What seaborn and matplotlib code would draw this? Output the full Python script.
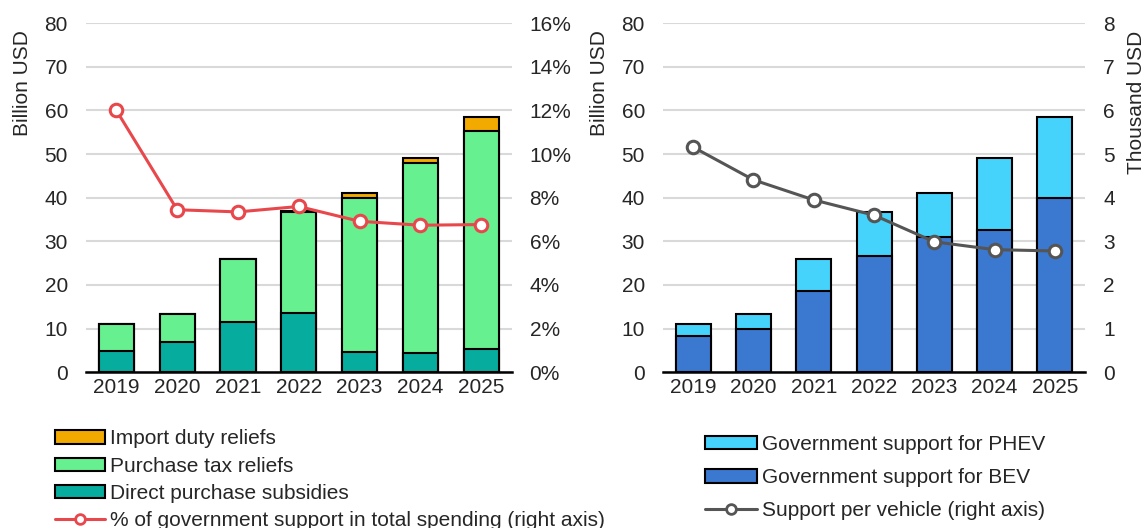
import seaborn as sns
import pandas as pd
import matplotlib.pyplot as plt
from matplotlib.patches import Patch
from matplotlib.lines import Line2D
from matplotlib.ticker import FuncFormatter

years = ['2019', '2020', '2021', '2022', '2023', '2024', '2025']

# left panel (billion USD)
direct_subsidies = [4.9, 7.0, 11.6, 13.5, 4.7, 4.4, 5.4]
purchase_tax = [6.2, 6.3, 14.4, 23.2, 35.3, 43.6, 49.9]
import_duty = [0.0, 0.0, 0.0, 0.15, 1.1, 1.0, 3.2]
share_pct = [12.0, 7.45, 7.35, 7.6, 6.92, 6.74, 6.77]

# right panel
bev_support = [8.4, 10.0, 18.7, 26.7, 31.0, 32.6, 40.0]
phev_support = [2.7, 3.3, 7.3, 10.1, 10.1, 16.4, 18.5]
per_vehicle = [5.16, 4.41, 3.95, 3.60, 2.99, 2.81, 2.78]

sns.set_theme(style='white')
plt.rcParams['font.family'] = ['Liberation Sans', 'DejaVu Sans']
FS = 15
plt.rcParams['font.size'] = FS

ORANGE = '#F2A900'
LGREEN = '#66F08F'
TEAL = '#06AC9D'
RED = '#E8484B'
LBLUE = '#45D3FC'
BLUE = '#3B78D0'
GREY = '#555555'

fig = plt.figure(figsize=(11.47, 5.28), dpi=100)
ax1 = fig.add_axes([0.075, 0.295, 0.371, 0.661])
ax3 = fig.add_axes([0.578, 0.295, 0.368, 0.661])

left = pd.DataFrame({'year': years, 'direct': direct_subsidies,
                     'tax': purchase_tax, 'duty': import_duty})
left['l2'] = left['direct'] + left['tax']
left['l3'] = left['l2'] + left['duty']

right = pd.DataFrame({'year': years, 'bev': bev_support, 'phev': phev_support})
right['total'] = right['bev'] + right['phev']

bar_kw = dict(width=0.58, edgecolor='black', linewidth=1.5, saturation=1)


def style_axis(ax, ymax, step):
    ax.set_ylim(0, ymax)
    ax.set_yticks(range(0, ymax + 1, step))
    ax.grid(axis='y', color='#D9D9D9', linewidth=1.5)
    ax.set_axisbelow(True)
    for s in ['top', 'left', 'right']:
        ax.spines[s].set_visible(False)
    ax.spines['bottom'].set_color('black')
    ax.spines['bottom'].set_linewidth(1.8)
    ax.tick_params(axis='y', length=0, labelsize=FS, pad=13)
    ax.tick_params(axis='x', length=0, labelsize=FS, pad=4)
    ax.set_xlabel('')
    ax.set_ylabel('Billion USD', fontsize=FS)
    ax.yaxis.set_label_coords(-0.128, 0.828)


def style_twin(ax):
    ax.tick_params(axis='y', length=0, labelsize=FS, pad=13)
    for s in ax.spines.values():
        s.set_visible(False)
    ax.set_ylabel('')


# left chart
sns.barplot(data=left, x='year', y='l3', color=ORANGE, ax=ax1, **bar_kw)
sns.barplot(data=left, x='year', y='l2', color=LGREEN, ax=ax1, **bar_kw)
sns.barplot(data=left, x='year', y='direct', color=TEAL, ax=ax1, **bar_kw)
style_axis(ax1, 80, 10)

ax2 = ax1.twinx()
sns.pointplot(x=years, y=share_pct, ax=ax2, color=RED, markers='o',
              markersize=9, markerfacecolor='white', markeredgewidth=2.2,
              linewidth=2.2)
ax2.set_ylim(0, 16)
ax2.set_yticks(range(0, 17, 2))
ax2.yaxis.set_major_formatter(FuncFormatter(lambda v, p: f'{v:.0f}%'))
style_twin(ax2)
ax1.set_xlim(-0.5, 6.5)

# right chart
sns.barplot(data=right, x='year', y='total', color=LBLUE, ax=ax3, **bar_kw)
sns.barplot(data=right, x='year', y='bev', color=BLUE, ax=ax3, **bar_kw)
style_axis(ax3, 80, 10)

ax4 = ax3.twinx()
sns.pointplot(x=years, y=per_vehicle, ax=ax4, color=GREY, markers='o',
              markersize=9, markerfacecolor='white', markeredgewidth=2.2,
              linewidth=2.2)
ax4.set_ylim(0, 8)
ax4.set_yticks(range(0, 9))
style_twin(ax4)
ax4.set_ylabel('Thousand USD', fontsize=FS)
ax4.yaxis.set_label_coords(1.10, 0.774)
ax3.set_xlim(-0.5, 6.5)

# legends
patch_kw = dict(edgecolor='black', linewidth=1.5)
line_kw = dict(linewidth=2.2, marker='o', markersize=7,
               markerfacecolor='white', markeredgewidth=2)
h1 = [Patch(facecolor=ORANGE, **patch_kw),
      Patch(facecolor=LGREEN, **patch_kw),
      Patch(facecolor=TEAL, **patch_kw),
      Line2D([], [], color=RED, **line_kw)]
l1 = ['Import duty reliefs', 'Purchase tax reliefs', 'Direct purchase subsidies',
      '% of government support in total spending (right axis)']
fig.legend(h1, l1, loc='upper left', bbox_to_anchor=(0.048, 0.187),
           frameon=False, fontsize=FS, handlelength=2.4, handleheight=0.6,
           handletextpad=0.25, labelspacing=0.4, borderaxespad=0, borderpad=0)

h2 = [Patch(facecolor=LBLUE, **patch_kw),
      Patch(facecolor=BLUE, **patch_kw),
      Line2D([], [], color=GREY, **line_kw)]
l2 = ['Government support for PHEV', 'Government support for BEV',
      'Support per vehicle (right axis)']
fig.legend(h2, l2, loc='upper left', bbox_to_anchor=(0.615, 0.176),
           frameon=False, fontsize=FS, handlelength=2.5, handleheight=0.6,
           handletextpad=0.2, labelspacing=0.68, borderaxespad=0, borderpad=0)

plt.savefig('out.png', dpi=100)
